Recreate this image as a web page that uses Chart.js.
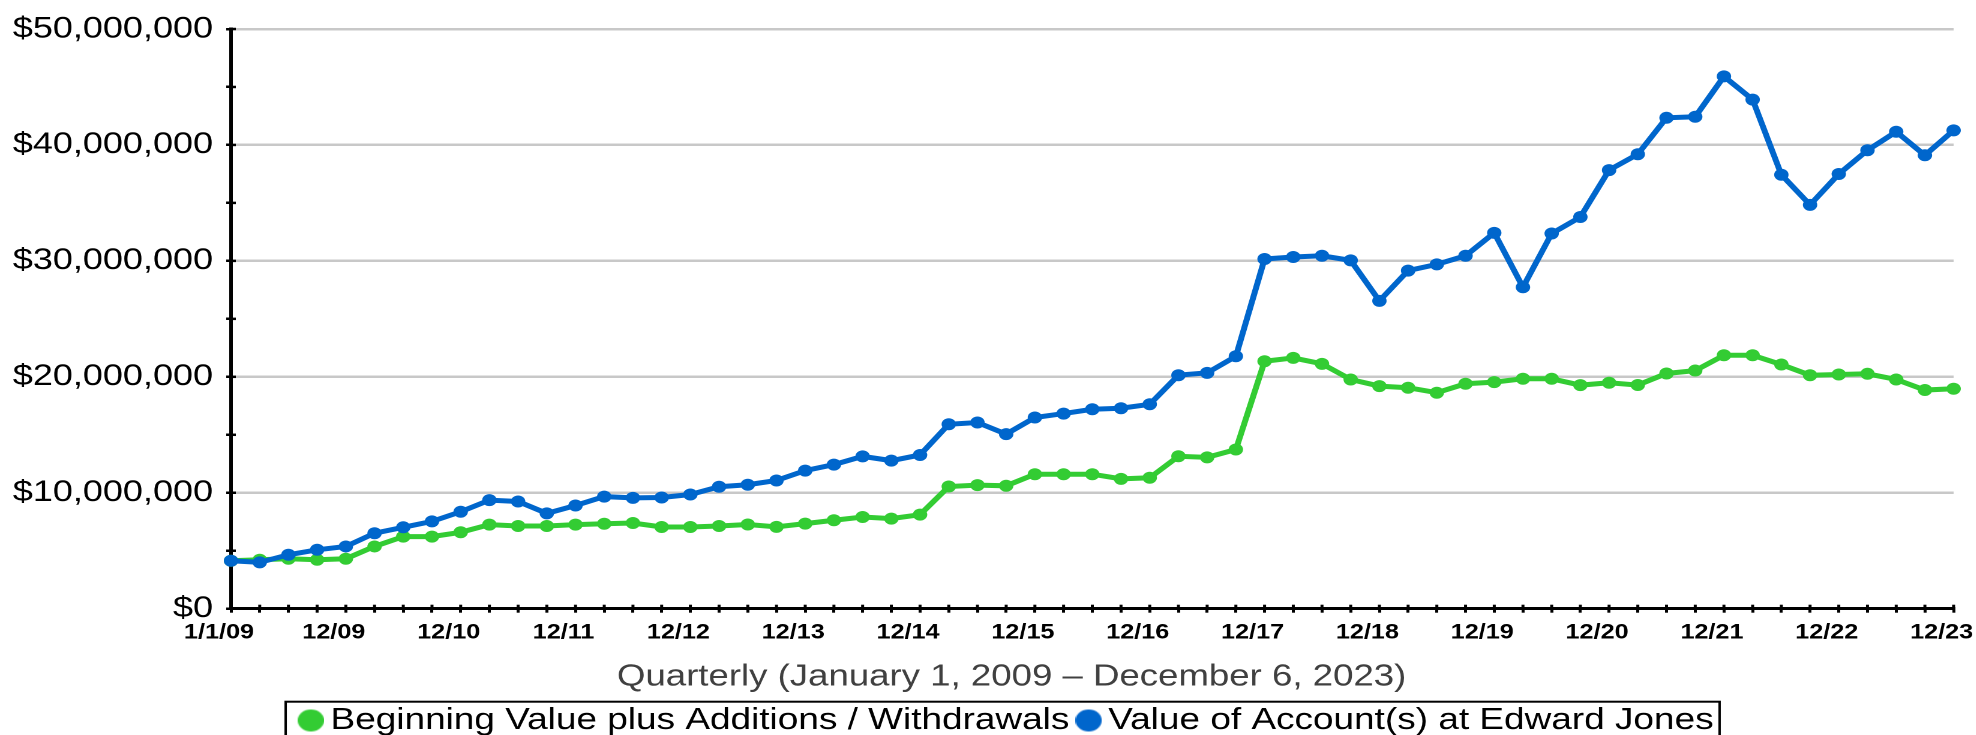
<!DOCTYPE html>
<html>
<head>
<meta charset="utf-8">
<script src="https://cdn.jsdelivr.net/npm/chart.js@4.4.0/dist/chart.umd.min.js"></script>
<style>
  html, body { margin: 0; padding: 0; background: #fff; overflow: hidden; }
  #wrap { width: 1647px; height: 735px; transform: scaleX(1.2); transform-origin: 0 0; }
</style>
</head>
<body>
<div id="wrap"><canvas id="c" width="1647" height="735"></canvas></div>
<script>
// ---- Data (values in millions of dollars) ----
const categories = [
  "1/1/09",
  "3/09","6/09","9/09","12/09",
  "3/10","6/10","9/10","12/10",
  "3/11","6/11","9/11","12/11",
  "3/12","6/12","9/12","12/12",
  "3/13","6/13","9/13","12/13",
  "3/14","6/14","9/14","12/14",
  "3/15","6/15","9/15","12/15",
  "3/16","6/16","9/16","12/16",
  "3/17","6/17","9/17","12/17",
  "3/18","6/18","9/18","12/18",
  "3/19","6/19","9/19","12/19",
  "3/20","6/20","9/20","12/20",
  "3/21","6/21","9/21","12/21",
  "3/22","6/22","9/22","12/22",
  "3/23","6/23","9/23","12/23"
];

const beginningPlusAdditions = [
  4.14, 4.22, 4.31, 4.22, 4.31, 5.37, 6.22, 6.22, 6.59, 7.25,
  7.13, 7.13, 7.25, 7.33, 7.39, 7.05, 7.05, 7.13, 7.26, 7.06,
  7.34, 7.63, 7.91, 7.77, 8.11, 10.54, 10.66, 10.60, 11.60, 11.60,
  11.60, 11.20, 11.29, 13.15, 13.05, 13.73, 21.34, 21.63, 21.12, 19.77,
  19.20, 19.06, 18.63, 19.40, 19.54, 19.83, 19.83, 19.28, 19.49, 19.29,
  20.29, 20.54, 21.86, 21.86, 21.06, 20.14, 20.20, 20.26, 19.77, 18.86,
  18.97
];

const accountValue = [
  4.14, 4.00, 4.65, 5.08, 5.37, 6.51, 7.02, 7.53, 8.36, 9.36,
  9.25, 8.22, 8.90, 9.67, 9.56, 9.59, 9.85, 10.52, 10.69, 11.06,
  11.91, 12.43, 13.14, 12.77, 13.26, 15.91, 16.06, 15.06, 16.49, 16.83,
  17.20, 17.29, 17.63, 20.14, 20.34, 21.77, 30.16, 30.33, 30.44, 30.04,
  26.55, 29.16, 29.70, 30.44, 32.42, 27.73, 32.36, 33.78, 37.83, 39.20,
  42.34, 42.43, 45.91, 43.91, 37.43, 34.83, 37.49, 39.54, 41.14, 39.11,
  41.26
];

const seriesNames = ["Beginning Value plus Additions / Withdrawals", "Value of Account(s) at Edward Jones"];
const xAxisTitle = "Quarterly (January 1, 2009 \u2013 December 6, 2023)";
const yMin = 0, yMax = 50, yStep = 5, yLabelStep = 10;

const GREEN = "#33cc33";
const BLUE = "#0066cc";
const FONT = "'Liberation Sans', Arial, Helvetica, sans-serif";

Chart.defaults.font.family = FONT;

// round legend marker images
function circleMarker(color, d) {
  const c = document.createElement('canvas');
  c.width = d; c.height = d;
  const g = c.getContext('2d');
  g.fillStyle = color;
  g.beginPath();
  g.arc(d / 2, d / 2, d / 2, 0, Math.PI * 2);
  g.fill();
  return c;
}
const legendMarkers = [circleMarker(GREEN, 22), circleMarker(BLUE, 22)];

const crossTicks = {
  id: 'crossTicks',
  beforeDatasetsDraw(chart) {
    const { ctx, chartArea, scales } = chart;
    const x = scales.x, y = scales.y;
    ctx.save();
    ctx.strokeStyle = '#000';
    ctx.lineWidth = 2.5;
    x.ticks.forEach((t, i) => {
      const px = x.getPixelForTick(i);
      ctx.beginPath();
      ctx.moveTo(px, chartArea.bottom);
      ctx.lineTo(px, chartArea.bottom - 4);
      ctx.stroke();
    });
    y.ticks.forEach((t, i) => {
      const py = y.getPixelForTick(i);
      ctx.beginPath();
      ctx.moveTo(chartArea.left, py);
      ctx.lineTo(chartArea.left + 4, py);
      ctx.stroke();
    });
    ctx.restore();
  }
};

const legendBorder = {
  id: 'legendBorder',
  afterDraw(chart) {
    const lg = chart.legend;
    if (!lg || !lg.legendHitBoxes || !lg.legendHitBoxes.length) return;
    const hb = lg.legendHitBoxes;
    const first = hb[0], last = hb[hb.length - 1];
    const l = first.left - 20;
    const r = last.left + last.width + 5;
    const t = lg.top + 11.7;
    const ctx = chart.ctx;
    ctx.save();
    ctx.strokeStyle = '#000';
    ctx.lineWidth = 2;
    ctx.strokeRect(l, t, r - l, chart.height);
    ctx.restore();
  }
};

new Chart(document.getElementById('c'), {
  type: 'line',
  data: {
    labels: categories,
    datasets: [
      {
        label: seriesNames[0],
        data: beginningPlusAdditions,
        borderColor: GREEN,
        backgroundColor: GREEN,
        pointBackgroundColor: GREEN,
        pointBorderColor: GREEN,
        pointBorderWidth: 0,
        pointRadius: 6,
        borderWidth: 5,
        tension: 0,
        clip: false,
        order: 1
      },
      {
        label: seriesNames[1],
        data: accountValue,
        borderColor: BLUE,
        backgroundColor: BLUE,
        pointBackgroundColor: BLUE,
        pointBorderColor: BLUE,
        pointBorderWidth: 0,
        pointRadius: 6,
        borderWidth: 5,
        tension: 0,
        clip: false,
        order: 0
      }
    ]
  },
  options: {
    responsive: false,
    animation: false,
    devicePixelRatio: 2,
    layout: { padding: { left: 58, right: 19, top: 25, bottom: -10.8 } },
    scales: {
      x: {
        offset: false,
        grid: {
          display: true,
          drawOnChartArea: false,
          drawTicks: true,
          tickLength: 4,
          tickColor: '#000',
          tickWidth: 2.5,
          lineWidth: 2.5
        },
        border: { display: true, color: '#000', width: 3 },
        ticks: {
          autoSkip: false,
          maxRotation: 0,
          minRotation: 0,
          padding: 7.2,
          labelOffset: -10,
          color: '#000',
          font: { size: 21, weight: 'bold', family: FONT },
          callback: function (value, index) {
            const lab = categories[index];
            return (index === 0 || lab.startsWith('12/')) ? lab : '';
          }
        },
        afterFit(scale) { scale.paddingLeft = 0; scale.paddingRight = 0; }
      },
      y: {
        min: yMin,
        max: yMax,
        grid: {
          drawTicks: true,
          tickLength: 4,
          tickColor: '#000',
          tickWidth: 2.5,
          lineWidth: 2.5,
          color: (ctx) => (ctx.tick && ctx.tick.value % yLabelStep === 0) ? '#c8c8c8' : 'rgba(0,0,0,0)'
        },
        border: { display: true, color: '#000', width: 3 },
        ticks: {
          stepSize: yStep,
          autoSkip: false,
          padding: 11,
          color: '#000',
          font: { size: 30, family: FONT },
          callback: function (v) {
            return (v % yLabelStep === 0) ? '$' + Math.round(v * 1e6).toLocaleString('en-US') : '';
          }
        },
        afterFit(scale) {
          scale.width = 134.5;
          // let the wide dollar labels extend left of the axis box without clipping
          scale._computeLabelArea = () => undefined;
        }
      }
    },
    plugins: {
      tooltip: { enabled: false },
      title: {
        display: true,
        text: xAxisTitle,
        position: 'bottom',
        weight: 500,
        color: '#404040',
        font: { size: 30.5, weight: 'normal', family: FONT },
        padding: { top: 6.6, bottom: -5.5 }
      },
      legend: {
        display: true,
        position: 'bottom',
        labels: {
          usePointStyle: true,
          boxWidth: 2,
          boxHeight: 22,
          padding: 15,
          color: '#000',
          font: { size: 30.8, family: FONT },
          sort: (a, b) => a.datasetIndex - b.datasetIndex,
          generateLabels: (chart) => {
            const items = Chart.defaults.plugins.legend.labels.generateLabels(chart);
            items.forEach(it => {
              it.lineWidth = 0;
              it.pointStyle = legendMarkers[it.datasetIndex];
            });
            return items;
          }
        }
      }
    }
  },
  plugins: [crossTicks, legendBorder]
});
</script>
</body>
</html>
